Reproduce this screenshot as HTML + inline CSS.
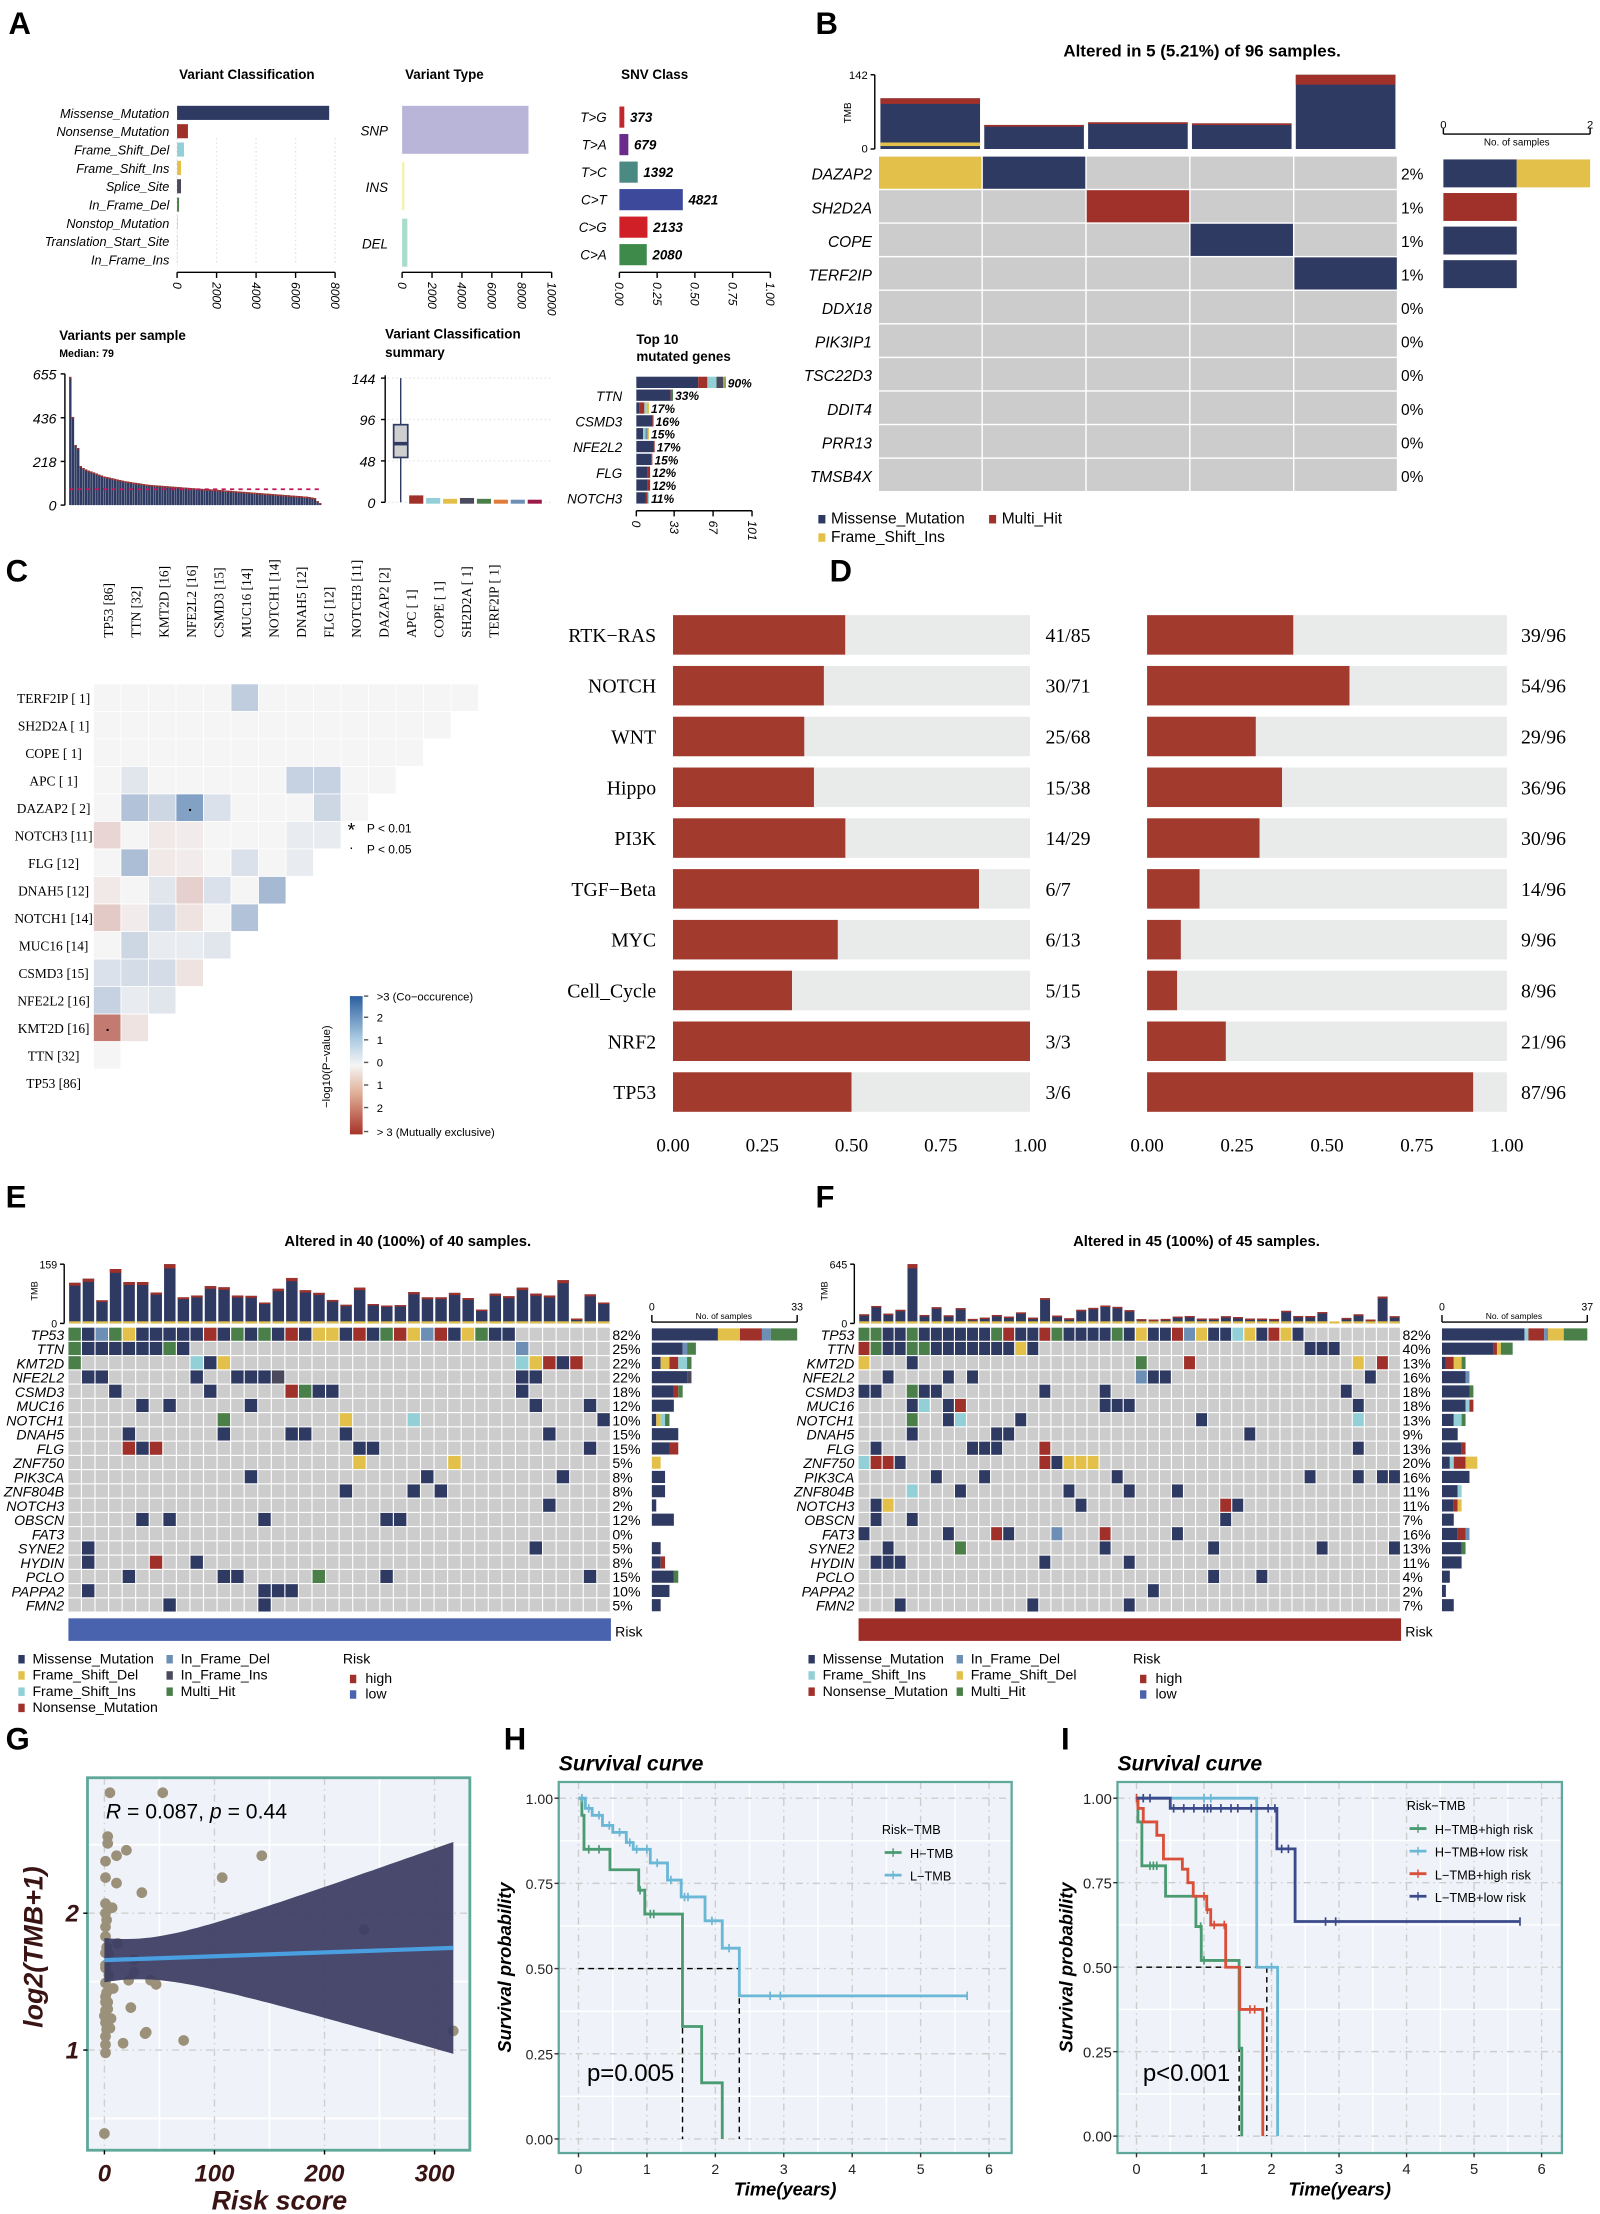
<!DOCTYPE html>
<html><head><meta charset="utf-8"><title>Mutation landscape figure</title>
<style>
html,body{margin:0;padding:0;background:#fff;}
svg{display:block;font-family:"Liberation Sans",Arial,sans-serif;}
.serif{font-family:"Liberation Serif","Times New Roman",serif;}
</style></head>
<body>
<svg id="fig" width="1600" height="2214" viewBox="0 0 1134 1569.2" preserveAspectRatio="none" xmlns="http://www.w3.org/2000/svg">
<rect x="0" y="0" width="1134" height="1569.2" fill="#fff"/>
<g font-weight="bold" font-size="22" fill="#000">
<text x="6" y="24">A</text>
<text x="578" y="24">B</text>
<text x="4" y="412">C</text>
<text x="588" y="412">D</text>
<text x="4" y="856">E</text>
<text x="578" y="856">F</text>
<text x="4" y="1240">G</text>
<text x="357" y="1240">H</text>
<text x="752" y="1240">I</text>
</g>
</svg>
<script>
// ---------- DATA ----------
// Panel A
const vcCats=['Missense_Mutation','Nonsense_Mutation','Frame_Shift_Del','Frame_Shift_Ins','Splice_Site','In_Frame_Del','Nonstop_Mutation','Translation_Start_Site','In_Frame_Ins'];
const vcVals=[7700,550,350,200,200,100,40,25,15];
const vtCats=['SNP','INS','DEL'];
const vtVals=[8450,150,350];
const snvCats=['T>G','T>A','T>C','C>T','C>G','C>A'];
const snvVals=[373,679,1392,4821,2133,2080];
const vpsVals=[640,440,300,285,195,185,178,172,168,163,158,152,148,143,140,137,134,131,128,125,122,119,117,115,113,111,109,107,105,103,101,100,99,98,97,96,95,94,93,92,91,90,89,88,87,86,85,84,83,82,81,80,79,79,78,77,76,75,74,73,72,71,70,69,68,67,66,65,64,63,62,61,60,59,58,57,56,55,54,53,52,51,50,49,48,47,46,45,44,43,42,40,38,35,20,10];
const vpsMedian=79;
const boxStats=[52,68,90,144]; // q1, median, q3, max
const boxSmall=[6,3,2,3,2,1,1,1];
const topGenes=['TP53','TTN','KMT2D','CSMD3','MUC16','NFE2L2','NOTCH1','FLG','DNAH5','NOTCH3'];
const topPct=['90%','33%','17%','16%','15%','17%','15%','12%','12%','11%'];
const topStacks=[[['M',54],['R',8],['C',8],['G',6],['Y',1],['H',1]],[['M',30],['R',1],['H',1]],[['M',3],['R',4],['C',2],['Y',2]],[['M',14],['R',1]],[['M',6],['C',2],['S',2],['Y',1]],[['M',15],['R',1]],[['M',13],['R',1]],[['M',10],['R',2]],[['M',10],['R',2]],[['M',8],['R',2],['C',1]]];
// Panel B
const bGenes=['DAZAP2','SH2D2A','COPE','TERF2IP','DDX18','PIK3IP1','TSC22D3','DDIT4','PRR13','TMSB4X'];
const bCells=['YM...','..R..','...M.','....M','.....','.....','.....','.....','.....','.....'];
const bPct=['2%','1%','1%','1%','0%','0%','0%','0%','0%','0%'];
const bTmb=[97,46,51,49,142];
// Panel C
const cGenes=['TP53 [86]','TTN [32]','KMT2D [16]','NFE2L2 [16]','CSMD3 [15]','MUC16 [14]','NOTCH1 [14]','DNAH5 [12]','FLG [12]','NOTCH3 [11]','DAZAP2 [2]','APC [ 1]','COPE [ 1]','SH2D2A [ 1]','TERF2IP [ 1]'];
const cRowsTop=['TERF2IP [ 1]','SH2D2A [ 1]','COPE [ 1]','APC [ 1]','DAZAP2 [ 2]','NOTCH3 [11]','FLG [12]','DNAH5 [12]','NOTCH1 [14]','MUC16 [14]','CSMD3 [15]','NFE2L2 [16]','KMT2D [16]','TTN [32]','TP53 [86]'];
const cVals=[
[0,0,0,0,0,0.8,0,0,0,0,0,0,0,0],
[0,0,0,0,0,0,0,0,0,0,0,0,0],
[0,0,0,0,0,0,0,0,0,0,0,0],
[0,0.3,0,0,0,0,0,0.7,0.7,0,0],
[0,1.0,0.6,1.7,0.4,0,0,0,0.6,0],
[-0.5,0,-0.2,-0.15,0,0,0,0.2,0.2],
[0,1.1,-0.2,-0.15,0,0.4,0,0.2],
[-0.2,0,0.3,-0.6,0.4,0,1.2],
[-0.7,-0.15,0.5,-0.3,0,1.0],
[0,0.6,0.2,0.2,0.3],
[0.4,0.5,0.5,-0.3],
[0.7,0.2,0.3],
[-2.0,-0.3],
[0],
[]];
const cSig=[[4,3],[12,0]];
// Panel D
const pathways=['RTK\u2212RAS','NOTCH','WNT','Hippo','PI3K','TGF\u2212Beta','MYC','Cell_Cycle','NRF2','TP53'];
const dLeftNum=[41,30,25,15,14,6,6,5,3,3];
const dLeftDen=[85,71,68,38,29,7,13,15,3,6];
const dRightNum=[39,54,29,36,30,14,9,8,21,87];
const dRightDen=[96,96,96,96,96,96,96,96,96,96];
const dTicks=['0.00','0.25','0.50','0.75','1.00'];
// Panel E
const eGenes=['TP53','TTN','KMT2D','NFE2L2','CSMD3','MUC16','NOTCH1','DNAH5','FLG','ZNF750','PIK3CA','ZNF804B','NOTCH3','OBSCN','FAT3','SYNE2','HYDIN','PCLO','PAPPA2','FMN2'];
const ePct=['82%','25%','22%','22%','18%','12%','10%','15%','15%','5%','8%','8%','2%','12%','0%','5%','8%','15%','10%','5%'];
const eMut=['0H 1M 2S 3H 4Y 5M 6M 7M 8M 9M 10R 11M 12H 13M 14H 15M 16R 17M 18Y 19Y 20M 21R 22M 23H 24R 25Y 26S 27R 28M 29Y 30H 31M 32M',
'0H 1M 2M 3M 4M 5M 6M 7H 8M 33S','0H 9C 10M 11Y 33C 34Y 35R 36M 37R','1M 2M 9M 12M 13M 14M 15G 33M 34M','3M 10M 16R 17H 18M 19M 33M',
'5M 7M 13M 34M 38M','11H 20Y 25C 39M','4M 11M 16M 17M 20M 35M','4R 5M 6R 21M 22M 38M','21Y 28Y','13M 26M 36M','20M 25M 27M','35M',
'5M 7M 14M 23M 24M','','1M 34M','1M 6R 9M','4M 11M 12M 18H 23M 38M','1M 14M 15M 16M','7M 14M'];
const eTmb=[109,120,62,146,111,111,83,159,70,75,100,97,75,74,56,93,122,89,82,63,50,96,52,48,49,84,70,70,82,68,37,80,73,96,80,75,116,13,78,56];
// Panel F
const fGenes=['TP53','TTN','KMT2D','NFE2L2','CSMD3','MUC16','NOTCH1','DNAH5','FLG','ZNF750','PIK3CA','ZNF804B','NOTCH3','OBSCN','FAT3','SYNE2','HYDIN','PCLO','PAPPA2','FMN2'];
const fPct=['82%','40%','13%','16%','18%','18%','13%','9%','13%','20%','16%','11%','11%','7%','16%','13%','11%','4%','2%','7%'];
const fMut=['0H 1H 2M 3M 4H 5M 6M 7M 8M 9M 10M 11H 12R 13M 14M 15R 16H 17M 18M 19M 20M 21H 22M 23Y 24M 25M 26R 27S 28Y 29M 30M 31C 32Y 33M 34R 35Y 36M',
'0R 1H 2M 3M 4H 5H 6M 7M 8M 9M 10M 11M 12M 13Y 14M 37M 38M 39M','0Y 4M 23H 27R 41Y 43R','2M 7M 9M 23S 24M 25M 42M','0M 1M 4H 5M 6M 15M 20M 40M',
'4M 5C 7M 8R 20M 21M 22M 41M','4H 7M 8C 13M 28M 41C','4M 11M 12M 32M','1M 9M 10M 11M 15R 41M','0C 1R 2R 3M 15R 16M 17Y 18Y 19Y','6M 10M 21M 37M 41M 43M 44M',
'4C 8M 17M 22M 26M','1M 2Y 18M 30R 31M','1M 4M 30M','0M 7M 11R 12M 16S 20R 26M','2M 8H 20M 29M 38M 44M','1M 2M 3M 15M 22M','29M 33M','24M','3M 14M 22M'];
const fTmb=[99,190,106,148,645,92,176,88,166,49,63,92,74,120,63,275,85,56,148,169,194,180,144,46,42,49,74,81,53,53,78,70,53,53,49,137,81,81,123,10,60,99,42,292,78];
// Panel G
const riskScore=[5,53,3,3,20,11,1,143,1,11,107,34,1,7,1,1,1,12,236,1,27,1,27,22,42,47,1,1,24,1,6,1,38,37,5,72,17,1,1,317,0,2,4,8,3,2,1,2,0,3,1,2,4,1];
const log2Tmb=[2.88,2.88,2.56,2.51,2.46,2.42,2.38,2.42,2.26,2.22,2.26,2.15,2.07,2.04,2.0,1.9,1.83,1.78,1.88,1.71,1.66,1.6,1.57,1.51,1.51,1.48,1.49,1.39,1.31,1.29,1.23,1.2,1.13,1.12,1.16,1.07,1.05,1.04,0.98,1.14,0.39,1.75,1.7,1.45,1.35,1.95,1.1,1.15,1.25,1.3,1.35,1.42,1.55,1.62];
// Panel H
const hHighT=[0.05,0.08,0.46,0.88,0.97,1.52,1.8,2.1];
const hHighS=[0.95,0.85,0.79,0.73,0.66,0.33,0.165,0];
const hHighCens=[0.15,0.3,0.9,1.05,1.1];
const hLowT=[0.1,0.2,0.35,0.5,0.7,0.8,1.05,1.3,1.5,1.85,2.1,2.35];
const hLowS=[0.97,0.95,0.92,0.9,0.87,0.85,0.81,0.76,0.71,0.64,0.56,0.42];
const hLowCens=[0.05,0.15,0.3,0.45,0.6,0.75,0.85,1.0,1.15,1.35,1.55,1.6,1.95,2.2,2.8,2.95,5.68];
// Panel I
const iHHT=[0.02,0.08,0.43,0.88,0.96,1.52,1.56];
const iHHS=[0.93,0.80,0.71,0.62,0.52,0.26,0];
const iHHCens=[0.2,0.25,0.3,0.95,1.0];
const iHLT=[1.78,2.09];
const iHLS=[0.5,0];
const iHLCens=[1.0,1.1,2.0];
const iLHT=[0.02,0.1,0.3,0.4,0.68,0.76,0.84,1.04,1.1,1.32,1.53,1.87];
const iLHS=[0.97,0.93,0.89,0.82,0.79,0.75,0.71,0.67,0.625,0.5,0.375,0];
const iLHCens=[0.0,1.0,1.05,1.15,1.3,1.68,1.75];
const iLLT=[0.5,2.08,2.35];
const iLLS=[0.97,0.85,0.635];
const iLLCens=[0.1,0.2,0.55,0.7,0.85,1.0,1.05,1.1,1.25,1.4,1.5,1.7,1.95,2.05,2.15,2.25,2.8,2.95,5.68];

// ---------- HELPERS ----------
const NS='http://www.w3.org/2000/svg';
const svg=document.getElementById('fig');
const COL={M:'#2f3a63',R:'#a0302a',Y:'#e3c04a',C:'#93cfd6',S:'#6d8fb5',G:'#4a4a5c',H:'#4a7f4a','.':'#cccccc'};
function mk(tag,attrs,parent){const e=document.createElementNS(NS,tag);for(const k in attrs)e.setAttribute(k,attrs[k]);(parent||svg).appendChild(e);return e;}
function nm(e,n){


return e;}
function txt(x,y,s,attrs,parent,name){const t=mk('text',Object.assign({x:x,y:y},attrs||{}),parent);t.textContent=s;nm(t,name||'label');return t;}
function grp(name){const g=mk('g',{});nm(g,name);return g;}
function line(x1,y1,x2,y2,attrs,parent,name){const l=mk('line',Object.assign({x1,y1,x2,y2,stroke:'#000','stroke-width':1},attrs||{}),parent);nm(l,name||'line');return l;}
function rect(x,y,w,h,fill,parent,name,extra){const r=mk('rect',Object.assign({x,y,width:Math.max(0,w),height:Math.max(0,h),fill},extra||{}),parent);nm(r,name||'rect');return r;}
function parseMut(s){const o={};if(!s)return o;s.trim().split(/\s+/).forEach(t=>{o[parseInt(t)]=t.replace(/[0-9]/g,'');});return o;}

// ---------- PANEL A ----------
(function(){
const g=grp('panel-a');
const x0=125.5,x1=237.5,xs=v=>x0+v/8000*(x1-x0);
txt(175,56,'Variant Classification',{'font-size':9.5,'font-weight':'bold','text-anchor':'middle'},g,'variant-classification-title');
const vcCol=['#2f3a63','#a0302a','#93cfd6','#e3c04a','#4a4a5c','#4a7f4a','#f0c4b0','#c8d0e8','#e8c8d0'];
[0,2000,4000,6000,8000].forEach(t=>{line(xs(t),100-2,xs(t),188,{stroke:'#e2e2e2','stroke-dasharray':'1,2'},g,'vc-gridline');});
vcCats.forEach((c,i)=>{const y=80+i*13;rect(x0,y-5,xs(vcVals[i])-x0,10,vcCol[i],g,'vc-bar-'+c);
txt(120,y+3.5,c,{'font-size':9,'font-style':'italic','text-anchor':'end'},g,'vc-category-label');});
line(x0,193,x1,193,{},g,'vc-x-axis');
[0,2000,4000,6000,8000].forEach(t=>{line(xs(t),193,xs(t),197,{},g,'vc-tick');txt(xs(t)-3,200,String(t),{'font-size':8.5,'font-style':'italic',transform:`rotate(90 ${xs(t)-3} 200)`},g,'vc-tick-label');});
const tx0=285,tx1=391,ts=v=>tx0+v/10000*(tx1-tx0);
txt(315,56,'Variant Type',{'font-size':9.5,'font-weight':'bold','text-anchor':'middle'},g,'variant-type-title');
const vtCol=['#b9b5d8','#f6f1a6','#a8dccb'];const vtY=[75,115,155],vtH=[34,34,34];
vtCats.forEach((c,i)=>{rect(tx0,vtY[i],ts(vtVals[i])-tx0,vtH[i],vtCol[i],g,'vt-bar-'+c);
txt(275,vtY[i]+21,c,{'font-size':9.5,'font-style':'italic','text-anchor':'end'},g,'vt-category-label');});
line(tx0,193,tx1,193,{},g,'vt-x-axis');
[0,2000,4000,6000,8000,10000].forEach(t=>{line(ts(t),193,ts(t),197,{},g,'vt-tick');txt(ts(t)-3,200,String(t),{'font-size':8.5,'font-style':'italic',transform:`rotate(90 ${ts(t)-3} 200)`},g,'vt-tick-label');});
const sx0=439,sx1=546,tot=snvVals.reduce((a,b)=>a+b,0),ss=v=>sx0+v*(sx1-sx0);
txt(464,56,'SNV Class',{'font-size':9.5,'font-weight':'bold','text-anchor':'middle'},g,'snv-class-title');
const snvCol=['#c0282d','#6a2b8a','#4a8a82','#3d4a9c','#d01f26','#3d8a4a'];
snvCats.forEach((c,i)=>{const y=83+i*19.5;const w=ss(snvVals[i]/tot)-sx0;rect(sx0,y-7.5,w,15,snvCol[i],g,'snv-bar-'+c);
txt(430,y+3.5,c,{'font-size':9.5,'font-style':'italic','text-anchor':'end'},g,'snv-category-label');
txt(sx0+w+4,y+3.5,String(snvVals[i]),{'font-size':9.5,'font-style':'italic','font-weight':'bold'},g,'snv-value-label');});
line(sx0,193,sx1,193,{},g,'snv-x-axis');
[0,0.25,0.5,0.75,1].forEach(t=>{line(ss(t),193,ss(t),197,{},g,'snv-tick');txt(ss(t)-3,200,t.toFixed(2),{'font-size':8.5,'font-style':'italic',transform:`rotate(90 ${ss(t)-3} 200)`},g,'snv-tick-label');});
txt(42,241,'Variants per sample',{'font-size':9.5,'font-weight':'bold'},g,'variants-per-sample-title');
txt(42,253,'Median: 79',{'font-size':7.5,'font-weight':'bold'},g,'median-label');
const px0=49,px1=228,py0=358,ph=93,ys=v=>py0-v/655*ph;const bw=(px1-px0)/vpsVals.length;
line(46,265,46,358,{},g,'vps-y-axis');
[0,218,436,655].forEach(t=>{line(43,ys(t),46,ys(t),{},g,'vps-tick');txt(40,ys(t)+4,String(t),{'font-size':10,'font-style':'italic','text-anchor':'end'},g,'vps-tick-label');});
vpsVals.forEach((v,i)=>{const x=px0+i*bw;const h=py0-ys(v);rect(x,ys(v),bw*0.9,h,'#2f3a63',g,'vps-bar');rect(x,ys(v),bw*0.9,Math.min(h,1.1),'#a0302a',g,'vps-bar-top');});
line(px0,ys(vpsMedian),px1,ys(vpsMedian),{stroke:'#c0185a','stroke-dasharray':'3,3','stroke-width':1.2},g,'median-line');
txt(273,240,'Variant Classification',{'font-size':9.5,'font-weight':'bold'},g,'vcs-title');
txt(273,253,'summary',{'font-size':9.5,'font-weight':'bold'},g,'vcs-title-2');
const by=v=>356-v/144*88;
line(273,266,273,356,{},g,'vcs-y-axis');
[0,48,96,144].forEach(t=>{line(270,by(t),273,by(t),{},g,'vcs-tick');txt(266,by(t)+4,String(t),{'font-size':10,'font-style':'italic','text-anchor':'end'},g,'vcs-tick-label');
line(275,by(t),390,by(t),{stroke:'#e6e6e6','stroke-dasharray':'1,2'},g,'vcs-gridline');});
line(284,by(0),284,by(boxStats[3]),{stroke:'#2f3a63'},g,'box-whisker');
rect(279,by(boxStats[2]),10,by(boxStats[0])-by(boxStats[2]),'#cfcfcf',g,'box-missense',{stroke:'#2f3a63','stroke-width':1.2});
line(279,by(boxStats[1]),289,by(boxStats[1]),{stroke:'#2f3a63','stroke-width':2.5},g,'box-median');
const smallCol=['#a0302a','#93cfd6','#e3c04a','#4a4a5c','#4a7f4a','#e07b39','#6d8fb5','#9b1b48'];
boxSmall.forEach((v,i)=>{const x=295+i*12;rect(x-5,by(v+2),10,by(0)-by(v+2)+1,smallCol[i],g,'small-box');});
txt(451,244,'Top 10',{'font-size':9.5,'font-weight':'bold'},g,'top10-title');
txt(451,256,'mutated genes',{'font-size':9.5,'font-weight':'bold'},g,'top10-title-2');
const gx0=451,gs=v=>v/101*82;
topGenes.forEach((gn,i)=>{const y=271+i*9.1;let x=gx0;topStacks[i].forEach(([c,n])=>{rect(x,y-4,gs(n),8,COL[c],g,'top10-bar-'+gn);x+=gs(n);});
txt(x+1.5,y+3.5,topPct[i],{'font-size':8.5,'font-style':'italic','font-weight':'bold'},g,'top10-pct');
if(i%2===1)txt(441,y+4,gn,{'font-size':9.5,'font-style':'italic','text-anchor':'end'},g,'top10-gene-label');});
line(gx0,362,gx0+82,362,{},g,'top10-x-axis');
[0,33,67,101].forEach(t=>{line(gx0+gs(t),362,gx0+gs(t),366,{},g,'top10-tick');txt(gx0+gs(t)-3,369,String(t),{'font-size':8.5,'font-style':'italic',transform:`rotate(90 ${gx0+gs(t)-3} 369)`},g,'top10-tick-label');});
})();

// ---------- PANEL B ----------
(function(){
const g=grp('panel-b');
txt(852,40,'Altered in 5 (5.21%) of 96 samples.',{'font-size':12,'font-weight':'bold','text-anchor':'middle'},g,'panel-b-title');
const gx0=623,gx1=991,cw=(gx1-gx0)/5,gy0=111,rh=23.8;
const ty=v=>105.6-v/142*52.6;
line(620,53,620,105.6,{},g,'tmb-axis');
line(617,53,620,53,{},g,'tmb-tick');line(617,105.6,620,105.6,{},g,'tmb-tick');
txt(615,56,'142',{'font-size':8,'text-anchor':'end'},g,'tmb-max');txt(615,108,'0',{'font-size':8,'text-anchor':'end'},g,'tmb-zero');
txt(603,80,'TMB',{'font-size':7,'text-anchor':'middle',transform:'rotate(-90 603 80)'},g,'tmb-axis-title');
bTmb.forEach((v,i)=>{const x=gx0+i*cw+1;const top=ty(v);rect(x,top,cw-3,105.6-top,'#2f3a63',g,'tmb-bar');
const capH=(i===0?4:(i===4?7:1.2));rect(x,top,cw-3,capH,'#a0302a',g,'tmb-bar-cap');if(i===0)rect(x,101,cw-3,2.5,'#e3c04a',g,'tmb-bar-ins');});
bGenes.forEach((gn,r)=>{const y=gy0+r*rh;const cells=bCells[r];
for(let c=0;c<5;c++){rect(gx0+c*cw,y,cw-1,rh-1,COL[cells[c]],g,'cell-'+gn);}
txt(618,y+rh/2+4.5,gn,{'font-size':11,'font-style':'italic','text-anchor':'end'},g,'gene-label');
txt(993,y+rh/2+4.5,bPct[r],{'font-size':11},g,'pct-label');});
const rx0=1023,rs=v=>v/2*104;
line(rx0,95,rx0+104,95,{},g,'samples-axis');line(rx0,91,rx0,95,{},g,'samples-tick');line(rx0+104,91,rx0+104,95,{},g,'samples-tick');
txt(rx0,91,'0',{'font-size':8,'text-anchor':'middle'},g,'samples-tick-label');txt(rx0+104,91,'2',{'font-size':8,'text-anchor':'middle'},g,'samples-tick-label');
txt(rx0+52,103,'No. of samples',{'font-size':7,'text-anchor':'middle'},g,'samples-axis-title');
bGenes.forEach((gn,r)=>{const cells=bCells[r].replace(/\./g,'');let x=rx0;const y=gy0+r*rh+2;
const order=['M','R','Y'];order.forEach(k=>{const n=cells.split(k).length-1;if(n>0){rect(x,y,rs(n),rh-4,COL[k],g,'samples-bar-'+gn);x+=rs(n);}});});
const lg=[['Missense_Mutation','M',580,371],['Multi_Hit','R',701,371],['Frame_Shift_Ins','Y',580,384]];
lg.forEach(([l,k,x,y])=>{rect(x,y-6,5,6,k==='R'?'#a0302a':COL[k],g,'legend-key');txt(x+9,y,l,{'font-size':11},g,'legend-entry');});
})();

// ---------- PANEL C ----------
(function(){
const g=grp('panel-c');
const x0=66.5,cw=19.5,y0=485,rh=19.5;
function colr(v){const a=Math.min(Math.abs(v)/3,1);const base=[245,245,245];const tgt=v>0?[44,95,160]:[170,60,45];
const m=base.map((b,i)=>Math.round(b+(tgt[i]-b)*a));return `rgb(${m[0]},${m[1]},${m[2]})`;}
cGenes.forEach((gn,i)=>{const x=x0+cw*(i+0.5)+4;txt(x,452,gn,{'font-size':9.5,class:'serif',transform:`rotate(-90 ${x} 452)`},g,'column-gene-label');});
cRowsTop.forEach((gn,r)=>{const y=y0+r*rh;txt(38,y+rh/2+3.5,gn,{'font-size':9.5,class:'serif','text-anchor':'middle'},g,'row-gene-label');
cVals[r].forEach((v,c)=>{rect(x0+c*cw,y,cw-0.6,rh-0.6,colr(v),g,'heat-cell');});});
cSig.forEach(([r,c])=>{txt(x0+c*cw+cw/2,y0+r*rh+rh/2+2,'.',{'font-size':10,'text-anchor':'middle','font-weight':'bold'},g,'significance-dot');});
txt(249,593,'*',{'font-size':14,'text-anchor':'middle'},g,'legend-star');txt(260,590,'P < 0.01',{'font-size':8.5},g,'legend-p001');
txt(249,604,'\u00b7',{'font-size':10,'text-anchor':'middle'},g,'legend-dot');txt(260,605,'P < 0.05',{'font-size':8.5},g,'legend-p005');
const defs=mk('defs',{},g);const lgr=mk('linearGradient',{id:'cbar',x1:0,y1:0,x2:0,y2:1},defs);nm(lgr,'colorbar-gradient');
[['0','#2c5fa0'],['0.3','#a8c8e0'],['0.5','#f5f5f5'],['0.7','#e0b098'],['1','#a83228']].forEach(([o,c])=>{const s=mk('stop',{offset:o,'stop-color':c},lgr);nm(s,'gradient-stop');});
rect(248,706,9,98,'url(#cbar)',g,'colorbar');
const cl=[['>3 (Co\u2212occurence)',709],['2',724],['1',740],['0',756],['1',772],['2',788],['> 3 (Mutually exclusive)',805]];
cl.forEach(([s,y])=>{line(258,y-3,261,y-3,{stroke:'#555'},g,'colorbar-tick');txt(267,y,s,{'font-size':8},g,'colorbar-label');});
txt(234,756,'\u2212log10(P\u2212value)',{'font-size':8,'text-anchor':'middle',transform:'rotate(-90 234 756)'},g,'colorbar-title');
})();

// ---------- PANEL D ----------
(function(){
const g=grp('panel-d');
function chart(x0,x1,num,den,fx,name){const s=v=>x0+v*(x1-x0);
pathways.forEach((p,i)=>{const y=450+i*36;rect(x0,y-14,x1-x0,28,'#e9eaea',g,name+'-bg-'+p);
rect(x0,y-14,s(num[i]/den[i])-x0,28,'#a23a2e',g,name+'-bar-'+p);
txt(fx,y+5,num[i]+'/'+den[i],{'font-size':14,class:'serif'},g,name+'-fraction-label');});
dTicks.forEach(t=>{const v=parseFloat(t);txt(s(v),816,t,{'font-size':13.5,class:'serif','text-anchor':'middle'},g,name+'-tick-label');});}
pathways.forEach((p,i)=>{txt(465,450+i*36+5,p,{'font-size':14,class:'serif','text-anchor':'end'},g,'pathway-label');});
chart(477,730,dLeftNum,dLeftDen,741,'left');
chart(813,1068,dRightNum,dRightDen,1078,'right');
})();

// ---------- PANELS E & F ----------
function oncoprint(o){
const g=grp(o.name);
txt(o.titleX,883,o.title,{'font-size':10.5,'font-weight':'bold','text-anchor':'middle'},g,o.name+'-title');
const n=o.tmb.length,cw=(o.x1-o.x0)/n,y0=941,rh=(1143-941)/o.genes.length;
const by0=938,ty=v=>by0-v/o.tmbMax*42;
line(o.x0-3,896,o.x0-3,by0,{},g,'tmb-axis');line(o.x0-6,896,o.x0-3,896,{},g,'tmb-tick');line(o.x0-6,by0,o.x0-3,by0,{},g,'tmb-tick');
txt(o.x0-8,899,String(o.tmbMax),{'font-size':7.5,'text-anchor':'end'},g,'tmb-max');txt(o.x0-8,941,'0',{'font-size':7.5,'text-anchor':'end'},g,'tmb-zero');
txt(o.x0-22,915,'TMB',{'font-size':6.5,'text-anchor':'middle',transform:`rotate(-90 ${o.x0-22} 915)`},g,'tmb-axis-title');
o.tmb.forEach((v,i)=>{const x=o.x0+i*cw+0.5,t=ty(v),h=by0-t;rect(x,t,cw-1.5,h,'#2f3a63',g,'tmb-bar');rect(x,t,cw-1.5,Math.min(h,Math.max(1,h*0.07)),'#a0302a',g,'tmb-bar-cap');rect(x,by0-1.5,cw-1.5,1.5,'#e3c04a',g,'tmb-bar-base');});
const rx0=o.x1+29,rw=103;
line(rx0,937,rx0+rw,937,{},g,'samples-axis');line(rx0,932,rx0,937,{},g,'samples-tick');line(rx0+rw,932,rx0+rw,937,{},g,'samples-tick');
txt(rx0,929,'0',{'font-size':7.5,'text-anchor':'middle'},g,'samples-tick-label');txt(rx0+rw,929,String(o.sMax),{'font-size':7.5,'text-anchor':'middle'},g,'samples-tick-label');
txt(rx0+51,935,'No. of samples',{'font-size':6,'text-anchor':'middle'},g,'samples-axis-title');
o.genes.forEach((gn,r)=>{const y=y0+r*rh;const m=parseMut(o.mut[r]);
for(let c=0;c<n;c++){rect(o.x0+c*cw,y,cw-0.8,rh-0.8,COL[m[c]||'.'],g,'cell-'+gn);}
txt(o.x0-3,y+rh-1.5,gn,{'font-size':10,'font-style':'italic','text-anchor':'end'},g,'gene-label');
txt(o.x1+1,y+rh-1.5,o.pct[r],{'font-size':10},g,'pct-label');
let x=rx0;o.order.forEach(k=>{const cnt=Object.values(m).filter(v=>v===k).length;if(cnt>0){rect(x,y+0.5,cnt/o.sMax*rw,rh-1.5,COL[k],g,'samples-bar-'+gn);x+=cnt/o.sMax*rw;}});});
rect(o.x0,1147,o.x1-o.x0,16,o.riskCol,g,'risk-bar');
txt(o.x1+3,1160,'Risk',{'font-size':10},g,'risk-label');
o.legend.forEach(([l,k,col,row])=>{const x=o.lx+col*105,y=1179+row*11.5;rect(x,y-6,4.5,6,COL[k],g,'legend-key');txt(x+10,y,l,{'font-size':10},g,'legend-entry');});
txt(o.lx+230,1179,'Risk',{'font-size':10},g,'risk-legend-title');
rect(o.lx+235,1187,4.5,6,'#a0302a',g,'risk-high-key');txt(o.lx+246,1193,'high',{'font-size':10},g,'risk-high-label');
rect(o.lx+235,1198,4.5,6,'#4a63ae',g,'risk-low-key');txt(o.lx+246,1204,'low',{'font-size':10},g,'risk-low-label');
}
oncoprint({name:'panel-e',title:'Altered in 40 (100%) of 40 samples.',titleX:289,x0:48.5,x1:433,tmb:eTmb,tmbMax:159,genes:eGenes,mut:eMut,pct:ePct,sMax:33,riskCol:'#4a63ae',lx:13,
order:['M','Y','R','S','C','G','H'],
legend:[['Missense_Mutation','M',0,0],['Frame_Shift_Del','Y',0,1],['Frame_Shift_Ins','C',0,2],['Nonsense_Mutation','R',0,3],['In_Frame_Del','S',1,0],['In_Frame_Ins','G',1,1],['Multi_Hit','H',1,2]]});
oncoprint({name:'panel-f',title:'Altered in 45 (100%) of 45 samples.',titleX:848,x0:608.5,x1:993,tmb:fTmb,tmbMax:645,genes:fGenes,mut:fMut,pct:fPct,sMax:37,riskCol:'#9e2d28',lx:573,
order:['M','C','R','S','Y','H'],
legend:[['Missense_Mutation','M',0,0],['Frame_Shift_Ins','C',0,1],['Nonsense_Mutation','R',0,2],['In_Frame_Del','S',1,0],['Frame_Shift_Del','Y',1,1],['Multi_Hit','H',1,2]]});

// ---------- PANEL G ----------
(function(){
const g=grp('panel-g');
const fx0=62,fx1=333,fy0=1260,fy1=1524;
const xs=v=>74+v*(308-74)/300, ys=v=>1356-(v-2)*97;
rect(fx0,fy0,fx1-fx0,fy1-fy0,'#eff2f8',g,'plot-background');
[50,150,250].forEach(t=>line(xs(t),fy0,xs(t),fy1,{stroke:'#fff','stroke-width':1.2},g,'minor-gridline'));
[0.5,1.5,2.5].forEach(t=>line(fx0,ys(t),fx1,ys(t),{stroke:'#fff','stroke-width':1.2},g,'minor-gridline'));
[0,100,200,300].forEach(t=>line(xs(t),fy0,xs(t),fy1,{stroke:'#cfcfcf','stroke-dasharray':'5,3,1,3'},g,'major-gridline'));
[1,2].forEach(t=>line(fx0,ys(t),fx1,ys(t),{stroke:'#cfcfcf','stroke-dasharray':'5,3,1,3'},g,'major-gridline'));
riskScore.forEach((x,i)=>{const c=mk('circle',{cx:xs(x),cy:ys(log2Tmb[i]),r:3.8,fill:'#9b917a'},g);nm(c,'scatter-point');});
const n=riskScore.length;const mx=riskScore.reduce((a,b)=>a+b,0)/n,my=log2Tmb.reduce((a,b)=>a+b,0)/n;
let sxx=0,sxy=0;riskScore.forEach((x,i)=>{sxx+=(x-mx)**2;sxy+=(x-mx)*(log2Tmb[i]-my);});
const b=sxy/sxx,a=my-b*mx;let sse=0;riskScore.forEach((x,i)=>{sse+=(log2Tmb[i]-a-b*x)**2;});const s=Math.sqrt(sse/(n-2));
const xmin=Math.min(...riskScore),xmax=Math.max(...riskScore);const up=[],lo=[];
for(let k=0;k<=60;k++){const x=xmin+(xmax-xmin)*k/60;const hw=2.015*s*Math.sqrt(1/n+(x-mx)**2/sxx);up.push([xs(x),ys(a+b*x+hw)]);lo.push([xs(x),ys(a+b*x-hw)]);}
const pts=up.concat(lo.reverse()).map(p=>p[0].toFixed(1)+','+p[1].toFixed(1)).join(' ');
const band=mk('polygon',{points:pts,fill:'#3b3c62','fill-opacity':0.93},g);nm(band,'confidence-band');
line(xs(xmin),ys(a+b*xmin),xs(xmax),ys(a+b*xmax),{stroke:'#4a9fe0','stroke-width':3},g,'regression-line');
rect(fx0,fy0,fx1-fx0,fy1-fy0,'none',g,'plot-frame',{stroke:'#5fa89a','stroke-width':2});
txt(75,1289,'',{'font-size':15},g,'correlation-text').innerHTML='<tspan font-style="italic">R</tspan> = 0.087, <tspan font-style="italic">p</tspan> = 0.44';
[0,100,200,300].forEach(t=>{line(xs(t),fy1,xs(t),fy1+3,{},g,'x-tick');txt(xs(t),1546,String(t),{'font-size':17,'font-weight':'bold','font-style':'italic','text-anchor':'middle',fill:'#3a1414'},g,'x-tick-label');});
[1,2].forEach(t=>{line(fx0-3,ys(t),fx0,ys(t),{},g,'y-tick');txt(fx0-6,ys(t)+6,String(t),{'font-size':17,'font-weight':'bold','font-style':'italic','text-anchor':'end',fill:'#3a1414'},g,'y-tick-label');});
txt(198,1566,'Risk score',{'font-size':19,'font-weight':'bold','font-style':'italic','text-anchor':'middle',fill:'#3a1414'},g,'x-axis-title');
txt(30,1380,'log2(TMB+1)',{'font-size':19,'font-weight':'bold','font-style':'italic','text-anchor':'middle',fill:'#3a1414',transform:'rotate(-90 30 1380)'},g,'y-axis-title');
})();

// ---------- KM ----------
function km(o){
const g=grp(o.name);
const xs=v=>o.xz+v*o.xu, ys=v=>o.y0-v*(o.y0-o.y1);
rect(o.fx0,o.fy0,o.fx1-o.fx0,o.fy1-o.fy0,'#eff2f8',g,'plot-background');
[0.5,1.5,2.5,3.5,4.5,5.5].forEach(t=>line(xs(t),o.fy0,xs(t),o.fy1,{stroke:'#fff'},g,'minor-gridline'));
[0.125,0.375,0.625,0.875].forEach(t=>line(o.fx0,ys(t),o.fx1,ys(t),{stroke:'#fff'},g,'minor-gridline'));
[0,1,2,3,4,5,6].forEach(t=>line(xs(t),o.fy0,xs(t),o.fy1,{stroke:'#cdcdcd','stroke-dasharray':'5,3,1,3'},g,'major-gridline'));
[0,0.25,0.5,0.75,1].forEach(t=>line(o.fx0,ys(t),o.fx1,ys(t),{stroke:'#cdcdcd','stroke-dasharray':'5,3,1,3'},g,'major-gridline'));
line(xs(0),ys(0.5),xs(o.medMax),ys(0.5),{stroke:'#000','stroke-dasharray':'4,3'},g,'median-line');
o.medX.forEach(m=>line(xs(m),ys(0.5),xs(m),ys(0),{stroke:'#000','stroke-dasharray':'4,3'},g,'median-drop'));
o.series.forEach(sr=>{let d=`M${xs(0)},${ys(1)}`;sr.t.forEach((t,i)=>{d+=` H${xs(t).toFixed(1)} V${ys(sr.s[i]).toFixed(1)}`;});
const last=sr.t[sr.t.length-1];const end=sr.end!==undefined?sr.end:last;d+=` H${xs(end).toFixed(1)}`;
const p=mk('path',{d:d,fill:'none',stroke:sr.col,'stroke-width':2},g);nm(p,'survival-curve-'+sr.label);
sr.cens.forEach(c=>{let sv=1;sr.t.forEach((t,i)=>{if(t<=c)sv=sr.s[i];});if(sv<=0)return;line(xs(c),ys(sv)-3,xs(c),ys(sv)+3,{stroke:sr.col,'stroke-width':1.2},g,'censor-mark');});});
rect(o.fx0,o.fy0,o.fx1-o.fx0,o.fy1-o.fy0,'none',g,'plot-frame',{stroke:'#5fa89a','stroke-width':1.6});
[0,1,2,3,4,5,6].forEach(t=>{line(xs(t),o.fy1,xs(t),o.fy1+3,{stroke:'#333'},g,'x-tick');txt(xs(t),o.fy1+15,String(t),{'font-size':o.tf,'text-anchor':'middle',fill:'#222'},g,'x-tick-label');});
[0,0.25,0.5,0.75,1].forEach(t=>{line(o.fx0-3,ys(t),o.fx0,ys(t),{stroke:'#333'},g,'y-tick');txt(o.fx0-4,ys(t)+4,t.toFixed(2),{'font-size':o.tf,'text-anchor':'end',fill:'#222'},g,'y-tick-label');});
txt(o.fx0,o.fy0-8,'Survival curve',{'font-size':15,'font-weight':'bold','font-style':'italic'},g,'plot-title');
txt((o.fx0+o.fx1)/2,o.fy1+30,'Time(years)',{'font-size':13,'font-weight':'bold','font-style':'italic','text-anchor':'middle'},g,'x-axis-title');
txt(o.ylx,(o.fy0+o.fy1)/2,'Survival probability',{'font-size':13,'font-weight':'bold','font-style':'italic','text-anchor':'middle',transform:`rotate(-90 ${o.ylx} ${(o.fy0+o.fy1)/2})`},g,'y-axis-title');
txt(o.px,o.py,o.pText,{'font-size':17},g,'p-value');
txt(o.lgx,o.lgy,'Risk\u2212TMB',{'font-size':o.lf},g,'legend-title');
o.series.forEach((sr,i)=>{const y=o.lgy+17+i*16;line(o.lgx+2,y-4,o.lgx+14,y-4,{stroke:sr.col,'stroke-width':2},g,'legend-line');line(o.lgx+8,y-7,o.lgx+8,y-1,{stroke:sr.col},g,'legend-cross');
txt(o.lgx+20,y,sr.label,{'font-size':o.lf},g,'legend-entry');});
}
km({name:'panel-h',fx0:396,fx1:717,fy0:1263,fy1:1526,xz:410,xu:48.5,y0:1516,y1:1274.5,medMax:2.35,medX:[1.52,2.35],tf:10,
ylx:362,px:416,py:1475,pText:'p=0.005',lgx:625,lgy:1300,lf:9,
series:[{label:'H\u2212TMB',col:'#4a9a72',t:hHighT,s:hHighS,cens:hHighCens},{label:'L\u2212TMB',col:'#6bb7d6',t:hLowT,s:hLowS,cens:hLowCens,end:5.68}]});
km({name:'panel-i',fx0:792,fx1:1107,fy0:1263,fy1:1526,xz:805.5,xu:47.85,y0:1514,y1:1274.5,medMax:1.93,medX:[1.52,1.93],tf:10.5,
ylx:760,px:810,py:1475,pText:'p<0.001',lgx:997,lgy:1283,lf:9,
series:[{label:'H\u2212TMB+high risk',col:'#4a9a72',t:iHHT,s:iHHS,cens:iHHCens},{label:'H\u2212TMB+low risk',col:'#6bb7d6',t:iHLT,s:iHLS,cens:iHLCens},
{label:'L\u2212TMB+high risk',col:'#d9503a',t:iLHT,s:iLHS,cens:iLHCens},{label:'L\u2212TMB+low risk',col:'#3a4a8a',t:iLLT,s:iLLS,cens:iLLCens,end:5.68}]});
</script>
</body></html>
